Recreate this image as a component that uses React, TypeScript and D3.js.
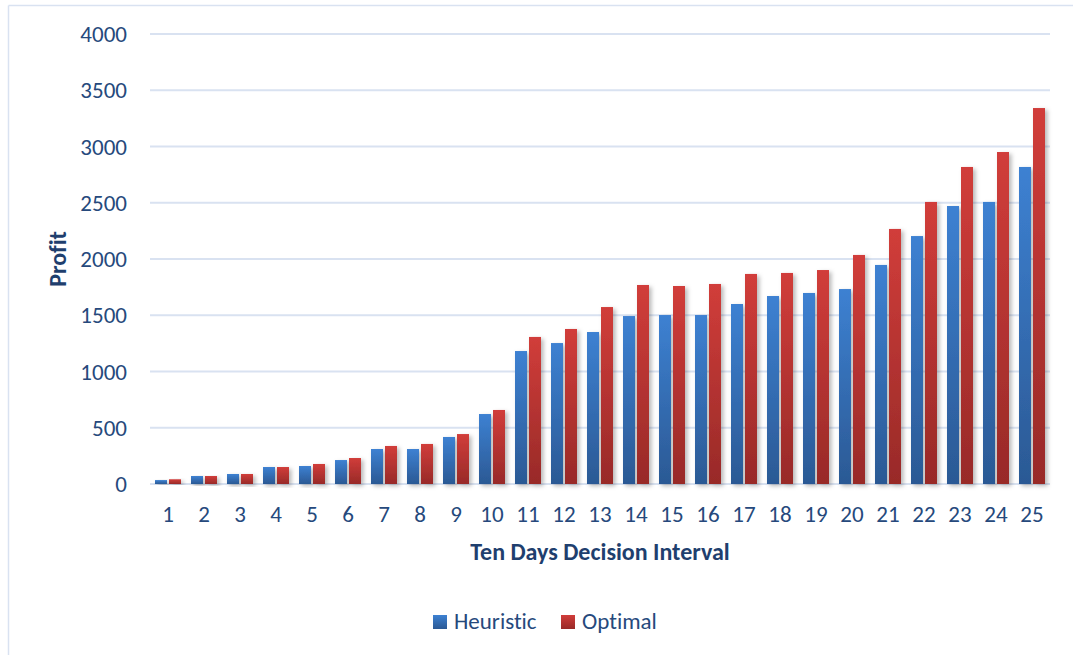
import React from "react";
import * as d3 from "d3";

// Profit per ten-day decision interval, heuristic vs. optimal policy
const intervals: string[] = [
  "1", "2", "3", "4", "5", "6", "7", "8", "9", "10", "11", "12", "13",
  "14", "15", "16", "17", "18", "19", "20", "21", "22", "23", "24", "25",
];
const heuristic: number[] = [
  35, 71, 89, 151, 160, 213, 311, 311, 418, 622, 1182, 1253, 1351,
  1493, 1502, 1502, 1600, 1671, 1698, 1733, 1947, 2204, 2471, 2507, 2818,
];
const optimal: number[] = [
  42, 71, 89, 151, 178, 231, 338, 356, 444, 658, 1307, 1378, 1573,
  1769, 1760, 1778, 1867, 1876, 1902, 2036, 2267, 2507, 2818, 2951, 3342,
];
const series: string[] = ["Heuristic", "Optimal"];
const yTicks: number[] = [0, 500, 1000, 1500, 2000, 2500, 3000, 3500, 4000];

const W = 1073;
const H = 655;
const FONT = "Carlito, Calibri, Lato, 'Open Sans', sans-serif";
const TEXT = "#26497c";
const TITLE = "#1f3f6e";
const GRID = "#d9e2f1";

const gradients: Record<string, [string, string]> = {
  Heuristic: ["#3d81d2", "#2b5994"],
  Optimal: ["#d13d3a", "#982a28"],
};

export default function App() {
  const x0 = d3.scaleBand<string>().domain(intervals).range([150, 1050]).padding(0);
  const groupW = 26;
  const x1 = d3
    .scaleBand<string>()
    .domain(series)
    .range([0, groupW])
    .paddingInner(1 / 7)
    .paddingOuter(0);
  const y = d3.scaleLinear().domain([0, 4000]).range([484, 34]);
  const groupOffset = (x0.bandwidth() - groupW) / 2;

  const rows = intervals.map((c, i) => ({
    c,
    values: [
      { s: "Heuristic", v: heuristic[i] },
      { s: "Optimal", v: optimal[i] },
    ],
  }));

  const [xl, xr] = x0.range();

  return (
    <svg
      width={W}
      height={H}
      style={{
        position: "absolute",
        left: 0,
        top: 0,
        background: "#fff",
        fontVariantLigatures: "none",
      }}
      fontFamily={FONT}
    >
      <defs>
        {series.map((s) => (
          <linearGradient key={s} id={`grad-${s}`} x1="0" y1="0" x2="0" y2="1">
            <stop offset="0%" stopColor={gradients[s][0]} />
            <stop offset="100%" stopColor={gradients[s][1]} />
          </linearGradient>
        ))}
        <filter id="barShadow" x="-40%" y="-10%" width="200%" height="130%">
          <feDropShadow dx="2.5" dy="2" stdDeviation="2" floodColor="#000" floodOpacity="0.28" />
        </filter>
      </defs>

      {/* chart frame */}
      <line x1={8.5} y1={5.5} x2={W} y2={5.5} stroke={GRID} strokeWidth={1.5} />
      <line x1={8.5} y1={5.5} x2={8.5} y2={H} stroke={GRID} strokeWidth={1.5} />

      {/* gridlines */}
      {yTicks.map((t) => (
        <line key={t} x1={xl} x2={xr} y1={y(t)} y2={y(t)} stroke={GRID} strokeWidth={2} />
      ))}

      {/* bars */}
      {rows.map((r) => (
        <g key={r.c} transform={`translate(${(x0(r.c) ?? 0) + groupOffset},0)`}>
          {r.values.map((d) => (
            <rect
              key={d.s}
              x={x1(d.s)}
              y={y(d.v)}
              width={x1.bandwidth()}
              height={y(0) - y(d.v)}
              fill={`url(#grad-${d.s})`}
              filter="url(#barShadow)"
            />
          ))}
        </g>
      ))}

      {/* y tick labels */}
      {yTicks.map((t) => (
        <text
          key={t}
          x={127}
          y={y(t)}
          dy="0.35em"
          textAnchor="end"
          fontSize={23}
          fill={TEXT}
        >
          {t}
        </text>
      ))}

      {/* x tick labels */}
      {intervals.map((c) => (
        <text
          key={c}
          x={(x0(c) ?? 0) + x0.bandwidth() / 2}
          y={522}
          textAnchor="middle"
          fontSize={23}
          fill={TEXT}
        >
          {c}
        </text>
      ))}

      {/* axis titles */}
      <text x={600} y={560} textAnchor="middle" fontSize={24} fontWeight="bold" fill={TITLE}>
        Ten Days Decision Interval
      </text>
      <text
        transform={`translate(66,${(y(0) + y(4000)) / 2}) rotate(-90)`}
        textAnchor="middle"
        fontSize={24}
        fontWeight="bold"
        fill={TITLE}
      >
        Profit
      </text>

      {/* legend */}
      {series.map((s, i) => {
        const lx = i === 0 ? 433 : 561;
        return (
          <g key={s}>
            <rect x={lx} y={615} width={14} height={14} fill={`url(#grad-${s})`} />
            <text x={lx + 21} y={629} fontSize={23} fill={TEXT}>
              {s}
            </text>
          </g>
        );
      })}
    </svg>
  );
}
